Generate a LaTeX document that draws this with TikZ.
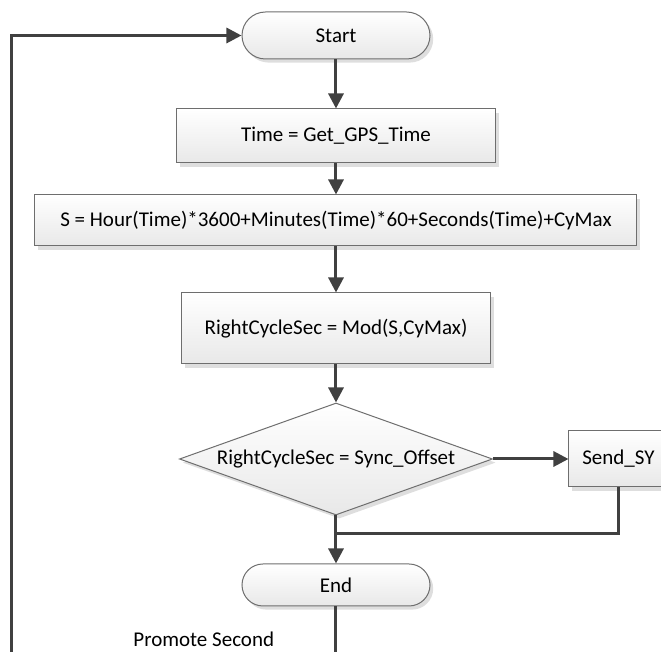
\documentclass[tikz,border=0pt]{standalone}
\usepackage{fontspec}
\setmainfont{Carlito}
\usetikzlibrary{shapes.geometric,shadows,arrows.meta}
\definecolor{wirecol}{HTML}{404040}
\definecolor{edgecol}{HTML}{6E6E6E}
\begin{document}
\begin{tikzpicture}[x=0.5pt,y=-0.5pt,
  base/.style={draw=edgecol, line width=0.5pt, top color=white, bottom color=black!9,
    font=\fontsize{10.5}{12}\selectfont, inner sep=0pt,
    drop shadow={shadow xshift=1.6pt, shadow yshift=-1.8pt, fill=black!13, opacity=1}},
  terminal/.style={base, rectangle, rounded corners=11.75pt, minimum width=94pt, minimum height=23.5pt},
  procbox/.style={base, rectangle},
  decision/.style={base, diamond, shape aspect=2.8, minimum width=156.5pt, minimum height=56pt},
  wire/.style={draw=wirecol, line width=1.5pt},
  conn/.style={wire, -{Triangle[length=7.5pt,width=7.5pt]}},
  lbl/.style={font=\fontsize{10.5}{12}\selectfont, inner sep=0pt}
]
\useasboundingbox (0,0) rectangle (661,652);
\clip (0,0) rectangle (661,652);

\node[terminal] (start) at (336,35.5) {Start};
\node[procbox, minimum width=159.5pt, minimum height=27pt] (time) at (336,136) {Time = Get\_GPS\_Time};
\node[procbox, minimum width=301pt, minimum height=25.5pt] (s) at (336,220.5) {S = Hour(Time)*3600+Minutes(Time)*60+Seconds(Time)+CyMax};
\node[procbox, minimum width=154.5pt, minimum height=35.5pt] (rcs) at (336,328.5) {RightCycleSec = Mod(S,CyMax)};
\node[decision] (dec) at (336,459) {RightCycleSec = Sync\_Offset};
\node[procbox, minimum width=49.5pt, minimum height=28pt] (send) at (618.5,459) {Send\_SY};
\node[terminal, minimum height=21pt, rounded corners=10.5pt] (end) at (336,585) {End};
\node[lbl, anchor=base west] (promote) at (133,647) {Promote Second};

\coordinate (join) at (336,534);
\coordinate (endout) at (336,670);
\coordinate (loopbot) at (12,670);

\draw[conn] (start.south) -- (time.north);
\draw[conn] (time.south) -- (s.north);
\draw[conn] (s.south) -- (rcs.north);
\draw[conn] (rcs.south) -- (dec.north);
\draw[conn] (dec.east) -- (send.west);
\draw[conn] (dec.south) -- (end.north);
\draw[wire] (send.south) |- (join);
\draw[wire] (end.south) -- (endout);
\draw[conn] (loopbot) |- (start.west);
\end{tikzpicture}
\end{document}
